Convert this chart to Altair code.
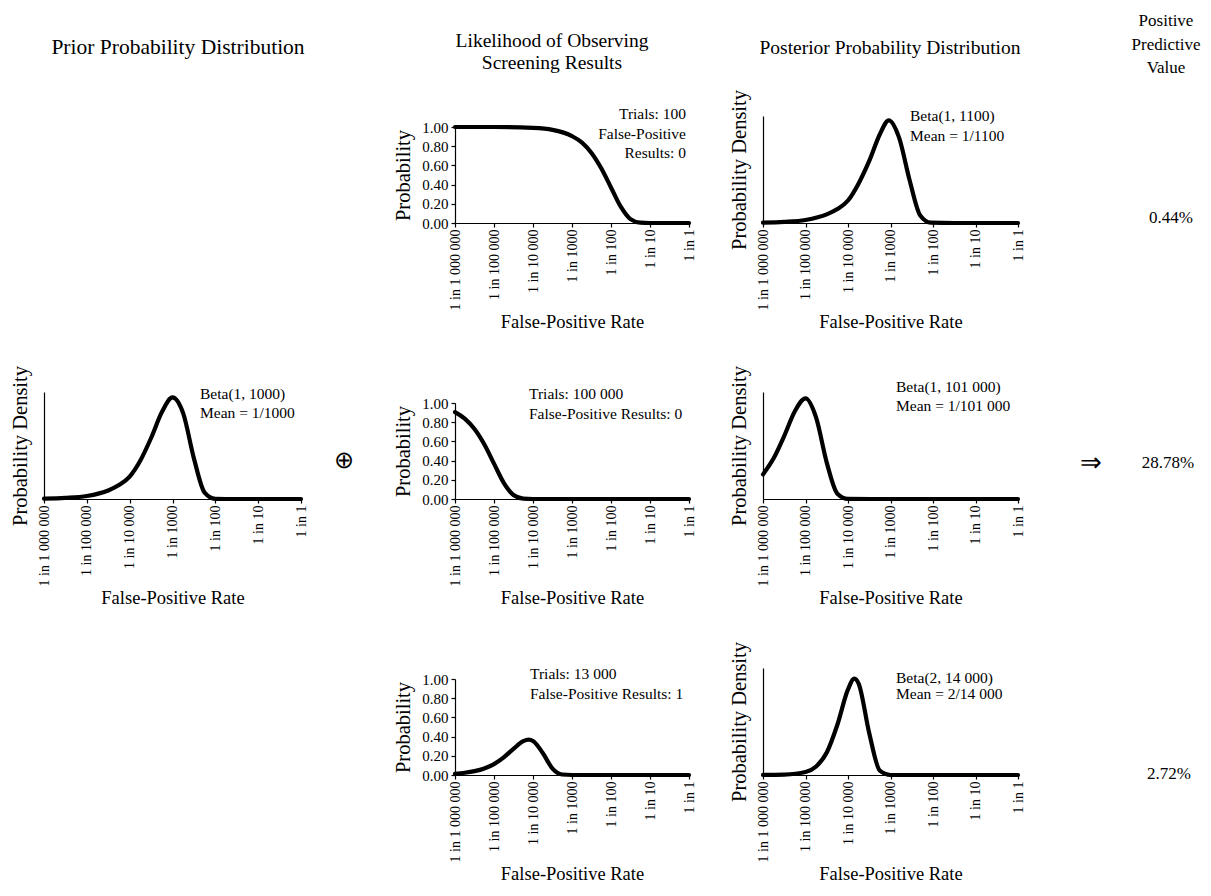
import altair as alt
import pandas as pd

FONT = "Liberation Serif"

# x positions are log10 of the false-positive rate
TICK_VALUES = [-6, -5, -4, -3, -2, -1, 0]
TICK_LABELS = ["1 in 1 000 000", "1 in 100 000", "1 in 10 000", "1 in 1000",
               "1 in 100", "1 in 10", "1 in 1"]
PROB_TICKS = [0, 0.2, 0.4, 0.6, 0.8, 1.0]

# Prior Beta(1, 1000)
PRIOR_X = [-6, -5.5, -5, -4.5, -4.25, -4, -3.75, -3.5, -3.25, -3, -2.75, -2.5, -2.25, -2, -1.5, -1, -0.5, 0]
PRIOR_Y = [0.003, 0.01, 0.028, 0.08, 0.13, 0.21, 0.36, 0.57, 0.81, 0.95, 0.80, 0.38, 0.06, 0.002, 0, 0, 0, 0]

# Likelihoods
LIK1_X = [-6, -5, -4, -3.5, -3, -2.75, -2.5, -2.25, -2, -1.75, -1.5, -1.25, -1, -0.5, 0]
LIK1_Y = [1.00, 1.00, 0.99, 0.97, 0.905, 0.84, 0.73, 0.57, 0.37, 0.17, 0.04, 0.003, 0, 0, 0]
LIK2_X = [-6, -5.75, -5.5, -5.25, -5, -4.75, -4.5, -4.25, -4, -3, -2, -1, 0]
LIK2_Y = [0.905, 0.837, 0.729, 0.57, 0.368, 0.169, 0.042, 0.004, 0, 0, 0, 0, 0]
LIK3_X = [-6, -5.75, -5.5, -5.25, -5, -4.75, -4.5, -4.25, -4.11, -4, -3.75, -3.5, -3.25, -3, -2, -1, 0]
LIK3_Y = [0.013, 0.023, 0.040, 0.068, 0.114, 0.184, 0.273, 0.352, 0.368, 0.354, 0.229, 0.067, 0.005, 0, 0, 0, 0]

# Posteriors
POST1_X = [-6, -5.5, -5, -4.5, -4.25, -4, -3.75, -3.5, -3.25, -3.04, -2.8, -2.55, -2.3, -2.05, -1.5, -1, 0]
POST1_Y = [0.003, 0.01, 0.028, 0.08, 0.13, 0.21, 0.37, 0.58, 0.83, 0.96, 0.80, 0.40, 0.07, 0.003, 0, 0, 0]
POST2_X = [-6, -5.75, -5.5, -5.25, -5, -4.75, -4.5, -4.25, -4, -3, -2, -1, 0]
POST2_Y = [0.23, 0.38, 0.59, 0.82, 0.94, 0.76, 0.34, 0.05, 0.001, 0, 0, 0, 0]
POST3_X = [-6, -5.5, -5, -4.75, -4.5, -4.25, -4, -3.85, -3.75, -3.5, -3.25, -3, -2, -1, 0]
POST3_Y = [0.0004, 0.0035, 0.028, 0.08, 0.21, 0.47, 0.80, 0.90, 0.855, 0.39, 0.04, 0, 0, 0, 0]

HEAD_PRIOR = ["Prior Probability Distribution"]
HEAD_LIK = ["Likelihood of Observing", "Screening Results"]
HEAD_POST = ["Posterior Probability Distribution"]
HEAD_PPV = ["Positive", "Predictive", "Value"]

NOTE_PRIOR = ["Beta(1, 1000)", "Mean = 1/1000"]
NOTE_LIK1 = ["Trials: 100", "False-Positive", "Results: 0"]
NOTE_LIK2 = ["Trials: 100 000", "False-Positive Results: 0"]
NOTE_LIK3 = ["Trials: 13 000", "False-Positive Results: 1"]
NOTE_POST1 = ["Beta(1, 1100)", "Mean = 1/1100"]
NOTE_POST2 = ["Beta(1, 101 000)", "Mean = 1/101 000"]
NOTE_POST3 = ["Beta(2, 14 000)", "Mean = 2/14 000"]
PPV_VALUES = ["0.44%", "28.78%", "2.72%"]
OPS = ["\u2295", "\u21d2"]

ROW_H = 107
W_PRIOR, W_OP, W_LIK, W_GAP, W_POST, W_PPV = 257, 154, 234, 74, 255, 180

label_expr = "[" + ",".join("'%s'" % s for s in TICK_LABELS) + "][round(datum.value) + 6]"


def text_mark(t, x, y, size=15.5, align="left"):
    return alt.Chart(alt.Data(values=[{"k": 0}])).mark_text(
        text=t, align=align, baseline="middle", font=FONT, fontSize=size, color="black"
    ).encode(x=alt.value(x), y=alt.value(y))


def text_cell(width, items):
    layers = [text_mark(*it) for it in items] if items else [text_mark("", 0, 0)]
    return alt.layer(*layers).properties(width=width, height=ROW_H)


def curve_panel(xs, ys, width, kind, notes):
    df = pd.DataFrame({"x": xs, "y": ys})
    xenc = alt.X("x:Q", scale=alt.Scale(domain=[-6, 0], nice=False, zero=False),
                 axis=alt.Axis(values=TICK_VALUES, labelExpr=label_expr, labelAngle=-90,
                               title="False-Positive Rate", grid=False, tickSize=4,
                               labelPadding=2, titlePadding=3))
    if kind == "lik":
        yenc = alt.Y("y:Q", scale=alt.Scale(domain=[0, 1], range=[ROW_H, 11], nice=False),
                     axis=alt.Axis(values=PROB_TICKS, format=".2f", title="Probability",
                                   grid=False, tickSize=4, labelPadding=3, titlePadding=8))
    else:
        yenc = alt.Y("y:Q", scale=alt.Scale(domain=[0, 1], nice=False),
                     axis=alt.Axis(labels=False, ticks=False, title="Probability Density",
                                   grid=False, titlePadding=14))
    line = alt.Chart(df).mark_line(color="black", strokeWidth=4.2, interpolate="monotone",
                                   strokeCap="round", strokeJoin="round").encode(x=xenc, y=yenc)
    layers = [line] + [text_mark(*n) for n in notes]
    return alt.layer(*layers).properties(width=width, height=ROW_H)


cells = [
    # row 1
    text_cell(W_PRIOR, [(HEAD_PRIOR[0], 134, -68.5, 21.5, "center")]),
    text_cell(W_OP, []),
    curve_panel(LIK1_X, LIK1_Y, W_LIK, "lik",
                [(HEAD_LIK[0], 97, -75.5, 19.5, "center"), (HEAD_LIK[1], 97, -53.5, 19.5, "center"),
                 (NOTE_LIK1[0], 231, -2, 15.5, "right"), (NOTE_LIK1[1], 231, 18, 15.5, "right"),
                 (NOTE_LIK1[2], 231, 37, 15.5, "right")]),
    text_cell(W_GAP, []),
    curve_panel(POST1_X, POST1_Y, W_POST, "post",
                [(HEAD_POST[0], 127, -68.5, 19.5, "center"),
                 (NOTE_POST1[0], 147, 0, 15.5), (NOTE_POST1[1], 147, 20, 15.5)]),
    text_cell(W_PPV, [(HEAD_PPV[0], 148, -95, 17, "center"), (HEAD_PPV[1], 148, -71, 17, "center"),
                      (HEAD_PPV[2], 148, -48, 17, "center"), (PPV_VALUES[0], 153, 101.5, 17, "center")]),
    # row 2
    curve_panel(PRIOR_X, PRIOR_Y, W_PRIOR, "post",
                [(NOTE_PRIOR[0], 156, 1.5, 15.5), (NOTE_PRIOR[1], 156, 20.5, 15.5)]),
    text_cell(W_OP, [(OPS[0], 43, 68.5, 24, "center")]),
    curve_panel(LIK2_X, LIK2_Y, W_LIK, "lik",
                [(NOTE_LIK2[0], 74, 1.5, 15.5), (NOTE_LIK2[1], 74, 21.5, 15.5)]),
    text_cell(W_GAP, []),
    curve_panel(POST2_X, POST2_Y, W_POST, "post",
                [(NOTE_POST2[0], 133, -5.5, 15.5), (NOTE_POST2[1], 133, 13.5, 15.5)]),
    text_cell(W_PPV, [(OPS[1], 73, 70.5, 26, "center"), (PPV_VALUES[1], 150, 70.5, 17, "center")]),
    # row 3
    text_cell(W_PRIOR, []),
    text_cell(W_OP, []),
    curve_panel(LIK3_X, LIK3_Y, W_LIK, "lik",
                [(NOTE_LIK3[0], 75, 5.5, 15.5), (NOTE_LIK3[1], 75, 25.5, 15.5)]),
    text_cell(W_GAP, []),
    curve_panel(POST3_X, POST3_Y, W_POST, "post",
                [(NOTE_POST3[0], 133, 9.5, 15.5), (NOTE_POST3[1], 133, 25.5, 15.5)]),
    text_cell(W_PPV, [(PPV_VALUES[2], 151, 105.5, 17, "center")]),
]

chart = alt.concat(*cells, columns=6, spacing={"row": 169, "column": 0},
                   bounds="flush", align="each").properties(
    padding={"left": 1, "top": 4, "right": 0, "bottom": 0}
).configure(font=FONT).configure_view(stroke=None).configure_axis(
    labelFont=FONT, titleFont=FONT,
    titleFontWeight="normal", labelColor="black", titleColor="black",
    domainColor="black", tickColor="black", domainWidth=1.2, tickWidth=1.2
).configure_axisX(titleFontSize=18.5, labelFontSize=14).configure_axisY(titleFontSize=20.5, labelFontSize=15)

chart.save("out.html", embed_options={"renderer": "svg", "actions": False})
